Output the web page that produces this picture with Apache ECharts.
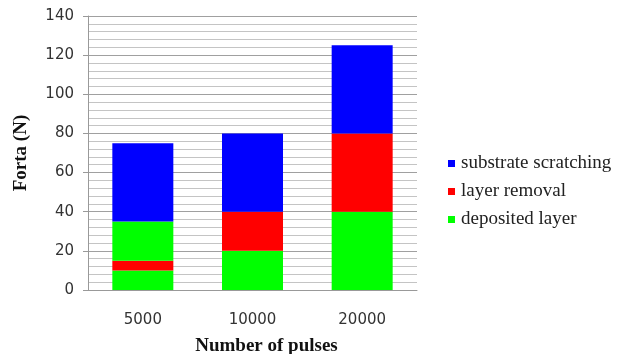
<!DOCTYPE html>
<html>
<head>
<meta charset="utf-8">
<script src="https://cdn.jsdelivr.net/npm/echarts@6/dist/echarts.min.js"></script>
<style>
  html, body { margin: 0; padding: 0; background: #fff; }
  #chart { width: 635px; height: 354px; }
</style>
</head>
<body>
<div id="chart"></div>
<script>
// Pulse counts on the x axis
const categories = ['5000', '10000', '20000'];
// Stacked force segments (N), bottom to top
const depositedLayer = [10, 20, 40];
const layerRemoval = [5, 20, 40];
const depositedLayerUpper = [20, 0, 0];
const substrateScratching = [40, 40, 45];
const legendNames = ['substrate scratching', 'layer removal', 'deposited layer'];

const serif = '"Liberation Serif", "Times New Roman", serif';
const sans = '"DejaVu Sans", Verdana, sans-serif';

const chart = echarts.init(document.getElementById('chart'), null, { renderer: 'canvas' });

function seg(name, data, color) {
  return {
    name: name,
    type: 'bar',
    stack: 'force',
    barWidth: 61,
    data: data,
    itemStyle: { color: color },
    emphasis: { disabled: true }
  };
}

chart.setOption({
  animation: false,
  grid: { left: 88, right: 218, top: 16, bottom: 64, containLabel: false, outerBoundsMode: 'none' },
  legend: {
    data: legendNames,
    orient: 'vertical',
    left: 443,
    top: 149,
    itemWidth: 7,
    itemHeight: 7,
    itemGap: 9,
    icon: 'rect',
    textStyle: { fontFamily: serif, fontSize: 19, color: '#222', padding: [0, 0, 0, 1] }
  },
  xAxis: {
    type: 'category',
    data: categories,
    name: 'Number of pulses',
    nameLocation: 'middle',
    nameGap: 47,
    nameTextStyle: { fontFamily: serif, fontSize: 19, fontWeight: 'bold', color: '#111', padding: [0, 0, 0, 28] },
    axisLine: { lineStyle: { color: '#999' } },
    axisTick: { show: false },
    axisLabel: { margin: 23, fontFamily: sans, fontSize: 15, color: '#333' }
  },
  yAxis: {
    type: 'value',
    min: 0,
    max: 140,
    interval: 20,
    name: 'Forta (N)',
    nameLocation: 'middle',
    nameGap: 57,
    nameTextStyle: { fontFamily: serif, fontSize: 19, fontWeight: 'bold', color: '#111' },
    axisLine: { show: true, lineStyle: { color: '#999' } },
    axisTick: { show: true, length: 5, lineStyle: { color: '#999' } },
    axisLabel: { margin: 14, fontFamily: sans, fontSize: 15, color: '#333' },
    splitLine: { lineStyle: { color: '#a0a0a0', width: 1 } },
    minorTick: { show: false, splitNumber: 5 },
    minorSplitLine: { show: true, lineStyle: { color: '#c4c4c4', width: 1 } }
  },
  series: [
    seg('deposited layer', depositedLayer, '#00ff00'),
    seg('layer removal', layerRemoval, '#ff0000'),
    seg('deposited layer', depositedLayerUpper, '#00ff00'),
    seg('substrate scratching', substrateScratching, '#0000ff')
  ]
});
</script>
</body>
</html>
